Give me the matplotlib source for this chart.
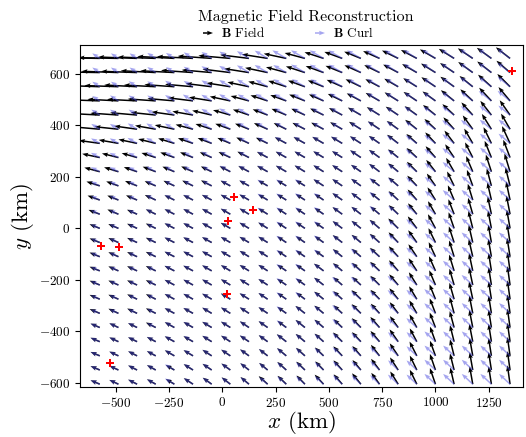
import numpy as np
import matplotlib
matplotlib.use("Agg")
import matplotlib.pyplot as plt

plt.rcParams['font.family'] = ['serif']
plt.rcParams['font.serif'] = ['cmr10']
plt.rcParams['mathtext.fontset'] = 'cm'
plt.rcParams['axes.formatter.use_mathtext'] = True
plt.rcParams['axes.unicode_minus'] = True

# grid (km)
x_grid = [-575, -487.5, -400, -312.5, -225, -137.5, -50, 37.5, 125, 212.5, 300, 387.5,
          475, 562.5, 650, 737.5, 825, 912.5, 1000, 1087.5, 1175, 1262.5, 1350]
y_grid = [660, 605, 550, 495, 440, 385, 330, 275, 220, 165, 110, 55, 0,
          -55, -110, -165, -220, -275, -330, -385, -440, -495, -550, -605]

# B field direction (deg) per row (top -> bottom), per column (left -> right)
b_angle = [
[179,179,178,178,177,177,176,175,173,171,168,165,162,160,158,156,154,152,150,148,146,144,142],
[179,178,178,177,177,176,175,173,171,168,165,162,160,158,156,154,152,150,148,146,144,142,139],
[178,178,177,177,176,175,173,171,168,165,162,160,158,156,154,152,150,148,146,144,141,138,135],
[178,177,177,176,175,173,171,168,165,162,160,158,156,154,152,150,148,146,144,141,137,133,130],
[177,176,175,174,172,170,167,164,161,159,157,155,154,152,150,148,146,144,141,137,132,128,125],
[175,174,172,170,168,165,162,160,158,156,154,153,152,150,148,146,144,141,137,132,126,122,120],
[172,170,168,166,163,161,159,157,155,154,152,151,150,149,147,145,142,138,133,127,120,116,115],
[168,166,164,162,160,158,156,155,153,152,151,150,149,148,146,144,141,137,131,124,117,112,111],
[165,163,161,159,157,156,154,153,152,151,150,149,148,147,145,143,140,135,128,120,113,108,107],
[162,160,158,157,155,154,153,152,151,150,149,148,147,146,144,142,139,133,125,116,110,105,104],
[160,158,157,155,154,153,152,151,150,149,148,147,146,145,143,141,137,131,122,113,107,103,102],
[159,157,156,154,153,152,151,150,149,148,147,146,145,144,142,140,136,129,120,111,106,102,101],
[158,157,155,154,153,152,151,150,149,148,147,146,145,143,141,139,135,127,118,109,104,101,100],
[158,156,155,154,153,152,151,150,149,148,146,145,144,142,140,138,133,125,116,108,103,100, 99],
[158,156,155,154,153,152,151,150,148,147,146,145,144,141,139,137,132,124,115,107,103,100, 99],
[158,156,155,154,153,152,150,149,148,147,146,145,143,140,138,136,131,123,114,107,102, 99, 98],
[157,156,155,154,152,151,150,149,148,147,146,144,142,139,137,135,130,122,113,106,102, 99, 98],
[157,156,154,153,152,151,150,149,148,146,145,143,141,138,136,134,129,121,112,106,102, 99, 98],
[157,155,154,153,152,151,149,148,147,146,144,142,140,137,135,132,127,120,111,105,101, 99, 98],
[157,155,154,153,151,150,149,148,146,145,143,141,139,136,134,131,126,119,111,105,101, 99, 98],
[157,155,154,152,151,150,148,147,146,144,142,140,138,135,133,130,125,118,110,104,101, 99, 98],
[157,155,153,152,150,149,147,146,144,142,140,138,136,133,131,128,124,117,110,104,100, 99, 98],
[157,155,153,151,150,148,146,144,142,140,138,136,134,132,130,127,123,116,109,104,100, 99, 98],
[157,155,153,151,149,147,144,142,140,138,136,134,133,131,129,126,122,116,109,103,100, 99, 98],
]

# B field magnitude (arbitrary units)
b_mag = [
[40,40,39,38,37,36,34,32,29,26,23,21,20,19,18,18,18,18,18,18,18,18,18],
[38,37,36,35,34,32,30,28,25,23,21,20,19,18,18,17,17,17,17,17,18,18,18],
[35,34,33,32,30,28,26,24,22,20,19,18,17,17,17,16,16,16,17,17,17,18,18],
[32,31,30,28,27,25,23,21,19,18,17,17,16,16,16,16,16,16,16,17,17,18,18],
[29,28,27,25,23,21,20,18,17,16,16,15,15,15,15,15,15,15,16,16,17,18,18],
[25,24,23,21,20,18,17,16,15,15,14,14,14,14,14,14,14,15,15,16,17,18,18],
[21,20,19,18,17,16,15,14,14,13,13,13,13,13,13,13,14,14,15,16,17,18,19],
[18,17,16,15,15,14,13,13,13,12,12,12,12,12,13,13,13,14,15,16,17,18,19],
[16,15,14,14,13,13,12,12,12,12,12,12,12,12,12,13,13,14,15,16,17,18,19],
[14,13,13,12,12,12,12,11,11,11,11,11,12,12,12,12,13,14,15,16,17,18,19],
[13,12,12,12,11,11,11,11,11,11,11,11,11,12,12,12,13,14,15,16,17,18,19],
[12,12,11,11,11,11,11,11,11,11,11,11,11,12,12,12,13,14,15,16,17,18,19],
[11,11,11,11,11,11,11,11,11,11,11,11,11,12,12,13,14,15,16,17,18,18,19],
[11,11,11,11,11,11,11,11,11,11,11,11,11,12,12,13,14,15,16,17,18,18,19],
[11,11,11,11,11,11,11,11,11,11,11,11,11,12,12,13,14,15,16,17,18,18,19],
[11,11,11,11,11,11,11,11,11,11,11,11,12,12,12,13,14,15,16,17,18,18,19],
[11,11,11,11,11,11,11,11,11,11,11,11,12,12,12,13,14,15,16,17,18,18,19],
[11,11,11,11,11,11,11,11,11,11,11,11,12,12,13,13,14,15,16,17,18,18,19],
[11,11,11,11,11,11,11,11,11,11,11,12,12,12,13,13,14,15,16,17,18,18,19],
[10,10,10,11,11,11,11,11,11,11,11,12,12,12,13,14,14,15,16,17,18,18,19],
[10,10,10,10,11,11,11,11,11,11,12,12,12,13,13,14,15,15,16,17,18,18,19],
[10,10,10,10,11,11,11,11,11,11,12,12,12,13,13,14,15,16,16,17,18,18,19],
[10,10,10,10,10,11,11,11,11,11,12,12,12,13,13,14,15,16,17,17,18,18,19],
[10,10,10,10,10,11,11,11,11,12,12,12,13,13,14,14,15,16,17,17,18,18,19],
]

# curl of B direction (deg)
c_angle = [
[146,146,146,147,147,147,148,148,149,149,150,150,150,150,150,149,149,148,147,146,145,144,143],
[146,146,146,147,147,148,148,149,149,150,150,150,150,150,149,149,148,147,146,145,144,143,142],
[146,146,147,147,147,148,148,149,149,150,150,150,150,150,149,148,147,146,145,144,143,142,141],
[147,147,147,147,148,148,149,149,150,150,150,150,150,149,149,148,147,146,145,144,143,142,141],
[147,147,147,148,148,148,149,149,149,150,150,150,150,149,149,148,147,146,145,144,143,142,141],
[148,148,148,148,149,149,149,149,150,150,150,150,149,149,148,147,146,145,144,143,142,141,140],
[150,150,150,150,150,150,150,150,150,150,150,149,149,148,147,146,145,144,143,142,141,140,140],
[152,152,151,151,151,150,150,150,150,150,149,149,148,147,146,145,144,143,142,141,140,139,139],
[153,153,152,152,151,151,150,150,150,149,149,148,147,146,145,144,143,142,141,140,139,139,139],
[154,154,153,152,152,151,151,150,149,149,148,147,146,145,144,143,142,141,140,139,139,138,138],
[155,154,154,153,152,151,151,150,149,148,147,146,145,144,143,142,141,140,139,139,138,138,138],
[156,155,154,153,152,151,150,149,148,147,146,145,144,143,142,141,140,139,139,138,138,138,138],
[156,155,154,153,152,151,150,149,148,147,146,145,144,143,142,141,140,139,139,138,138,138,138],
[156,155,154,153,152,151,150,149,148,147,146,145,144,143,142,141,140,139,139,138,138,138,138],
[156,155,154,153,152,151,150,149,148,147,146,145,144,143,142,141,140,139,139,138,138,138,138],
[156,155,154,153,152,151,150,149,148,147,146,145,144,143,142,141,140,139,138,138,138,138,138],
[156,155,154,153,152,150,149,148,147,146,145,144,143,142,141,140,139,139,138,138,138,138,138],
[156,155,154,152,151,150,149,148,147,146,145,144,143,142,141,140,139,138,138,138,138,138,138],
[157,155,154,152,151,150,148,147,146,145,144,143,142,141,140,139,138,138,138,137,137,137,137],
[157,155,153,152,150,149,148,147,146,144,143,142,141,140,139,138,138,138,137,137,137,137,137],
[157,155,153,151,150,148,147,146,145,143,142,141,140,139,138,138,137,137,137,137,137,137,137],
[157,155,153,151,149,148,146,145,144,142,141,140,139,138,137,137,137,137,137,137,137,137,137],
[157,155,153,151,149,147,145,144,142,141,140,139,138,137,137,136,136,137,137,137,137,137,137],
[157,155,153,151,149,147,145,143,141,140,139,138,137,136,136,136,137,137,137,137,137,137,137],
]

# curl of B magnitude (arbitrary units)
c_mag = [
[ 9, 9, 9,10,10,11,12,13,14,15,16,16,16,16,16,16,16,16,16,16,16,16,16],
[ 9, 9, 9,10,10,11,12,13,14,15,15,16,16,16,16,16,16,16,16,16,16,16,16],
[ 9, 9,10,10,11,11,12,13,14,14,15,15,15,15,15,15,15,15,15,15,16,16,16],
[ 9,10,10,10,11,12,12,13,13,14,14,14,15,15,15,15,15,15,15,15,15,16,16],
[10,10,10,11,11,12,12,13,13,13,14,14,14,14,14,14,14,15,15,15,15,15,15],
[10,10,11,11,11,12,12,12,13,13,13,13,13,13,13,14,14,14,14,15,15,15,15],
[10,10,11,11,11,12,12,12,12,12,13,13,13,13,13,13,14,14,14,15,15,15,15],
[10,10,10,11,11,11,12,12,12,12,12,12,12,12,13,13,13,14,14,15,15,15,15],
[10,10,10,11,11,11,11,12,12,12,12,12,12,12,12,13,13,14,14,15,15,15,15],
[10,10,10,11,11,11,11,11,11,12,12,12,12,12,12,13,13,14,14,15,15,15,15],
[10,10,10,11,11,11,11,11,11,12,12,12,12,12,12,13,13,14,14,15,15,15,15],
[10,10,10,11,11,11,11,11,11,12,12,12,12,12,12,13,13,14,14,15,15,15,15],
[10,10,10,10,11,11,11,11,11,11,12,12,12,12,12,13,13,14,14,15,15,15,15],
[10,10,10,10,11,11,11,11,11,11,12,12,12,12,12,13,13,14,14,15,15,15,15],
[10,10,10,10,11,11,11,11,11,11,12,12,12,12,13,13,13,14,14,15,15,15,15],
[10,10,10,10,11,11,11,11,11,11,12,12,12,12,13,13,13,14,14,15,15,15,15],
[10,10,10,10,11,11,11,11,11,11,12,12,12,13,13,13,14,14,15,15,15,15,15],
[10,10,10,10,11,11,11,11,11,11,12,12,12,13,13,13,14,14,15,15,15,15,15],
[10,10,10,10,11,11,11,11,11,11,12,12,12,13,13,13,14,14,15,15,15,15,15],
[10,10,10,10,11,11,11,11,11,11,12,12,12,13,13,13,14,14,15,15,15,15,15],
[10,10,10,10,11,11,11,11,11,11,12,12,12,13,13,13,14,14,15,15,15,15,15],
[10,10,10,10,11,11,11,11,11,11,12,12,12,13,13,13,14,14,15,15,15,15,15],
[10,10,10,10,11,11,11,11,11,11,12,12,12,13,13,13,14,14,15,15,15,15,15],
[10,10,10,10,11,11,11,11,11,11,12,12,12,13,13,13,14,14,15,15,15,15,15],
]

# red "+" sites (km)
site_x = [-567, -487, 56, 142, 28, 22, -526, 1361]
site_y = [-67, -74, 120, 71, 27, -254, -524, 611]

X, Y = np.meshgrid(np.array(x_grid), np.array(y_grid))
ba = np.deg2rad(np.array(b_angle, float)); bm = np.array(b_mag, float)
ca = np.deg2rad(np.array(c_angle, float)); cm = np.array(c_mag, float)
BU, BV = bm * np.cos(ba), bm * np.sin(ba)
CU, CV = cm * np.cos(ca), cm * np.sin(ca)

fig = plt.figure(figsize=(5.26, 4.37), dpi=100)
ax = fig.add_axes([0.152, 0.115, 0.842, 0.782])

qb = ax.quiver(X, Y, BU, BV, color='black', angles='uv', scale_units='dots', scale=1,
               pivot='tail', width=0.0034, headwidth=3, headlength=4,
               headaxislength=3.5, zorder=2)
qc = ax.quiver(X, Y, CU, CV, color=(0.30, 0.30, 0.88), alpha=0.5, angles='uv',
               scale_units='dots', scale=1, pivot='tail', width=0.0034,
               headwidth=3, headlength=4, headaxislength=3.5, zorder=3)
ax.plot(site_x, site_y, linestyle='none', marker='P', color='red', markersize=6,
        markeredgewidth=0, zorder=4)

ax.set_xlim(-668, 1410)
ax.set_ylim(-615, 712)
ax.set_xticks([-500, -250, 0, 250, 500, 750, 1000, 1250])
ax.set_yticks([-600, -400, -200, 0, 200, 400, 600])
ax.tick_params(labelsize=9.5, direction='out', length=3.5, width=0.8)
ax.set_xlabel(r'$x$ (km)', fontsize=16.5, labelpad=-1)
ax.set_ylabel(r'$y$ (km)', fontsize=16.5, labelpad=2)

fig.text(306 / 526, 1 - 17 / 437, 'Magnetic Field Reconstruction', ha='center',
         va='center', fontsize=11.5)
ax.quiverkey(qb, 213 / 526, 1 - 33 / 437, 10, r'$\mathbf{B}$ Field', labelpos='E',
             coordinates='figure', fontproperties={'size': 9.5}, labelsep=0.08)
ax.quiverkey(qc, 325 / 526, 1 - 33 / 437, 10, r'$\mathbf{B}$ Curl', labelpos='E',
             coordinates='figure', fontproperties={'size': 9.5}, labelsep=0.08)

fig.savefig('out.png', dpi=100)
